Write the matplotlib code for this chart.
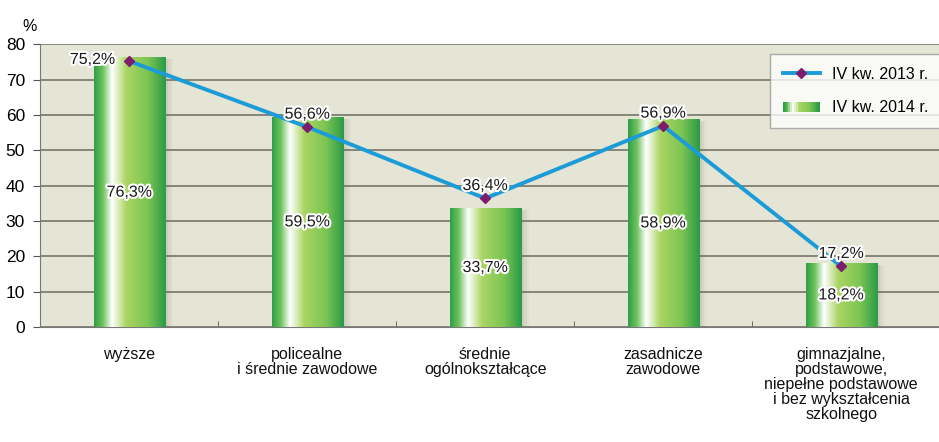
import numpy as np
import matplotlib.pyplot as plt
import matplotlib.patheffects as pe
from matplotlib.colors import LinearSegmentedColormap
from matplotlib.patches import Rectangle
from matplotlib.lines import Line2D
from matplotlib.legend_handler import HandlerBase

plt.rcParams['font.family'] = ['Liberation Sans', 'DejaVu Sans']

categories = ["wyższe", "policealne\ni średnie zawodowe", "średnie\nogólnokształcące",
              "zasadnicze\nzawodowe",
              "gimnazjalne,\npodstawowe,\nniepełne podstawowe\ni bez wykształcenia\nszkolnego"]
values_2014 = [76.3, 59.5, 33.7, 58.9, 18.2]
values_2013 = [75.2, 56.6, 36.4, 56.9, 17.2]
labels_2014 = ["76,3%", "59,5%", "33,7%", "58,9%", "18,2%"]
labels_2013 = ["75,2%", "56,6%", "36,4%", "56,9%", "17,2%"]

green = LinearSegmentedColormap.from_list(
    "bar", [(0.0, "#2f9e48"), (0.12, "#6cc25a"), (0.25, "#ffffff"),
            (0.45, "#a9d563"), (0.75, "#7cc552"), (1.0, "#2a9a48")])
grad = np.linspace(0, 1, 256).reshape(1, -1)

fig = plt.figure(figsize=(9.39, 4.42), dpi=100)
ax = fig.add_axes([0.043, 0.26, 0.957, 0.64])
ax.set_facecolor("#e4e5d5")
x = np.arange(len(categories))
w = 0.4

for xi, v in zip(x, values_2014):
    # soft shadow on the right
    for k, a in enumerate([0.10, 0.07, 0.04]):
        ax.add_patch(Rectangle((xi - w / 2 + 0.02 + k * 0.012, 0), w, v - 0.6,
                               facecolor="#6b6b5a", alpha=a, edgecolor="none", zorder=2))
    im = ax.imshow(grad, cmap=green, aspect="auto",
                   extent=(xi - w / 2, xi + w / 2, 0, v), zorder=3)
    r = Rectangle((xi - w / 2, 0), w, v, transform=ax.transData, facecolor="none",
                  edgecolor="none")
    ax.add_patch(r)
    im.set_clip_path(r)

ax.set_xlim(-0.5, 4.55)
ax.set_ylim(0, 80)
ax.yaxis.grid(True, color="#75756a", linewidth=1.2)
ax.set_axisbelow(True)

ax.plot(x, values_2013, color="#1b9bd7", linewidth=2.8, zorder=5)
ax.plot(x, values_2013, linestyle="none", marker="D", markersize=5,
        color="#7d1d6d", zorder=6)

halo = [pe.withStroke(linewidth=3, foreground="white")]
for xi, v, lab in zip(x, values_2014, labels_2014):
    ax.text(xi, v / 2, lab, ha="center", va="center", fontsize=11.5,
            color="#1a1a1a", path_effects=halo, zorder=7)
for i, (xi, v, lab) in enumerate(zip(x, values_2013, labels_2013)):
    if i == 0:
        ax.text(xi - 0.08, v + 0.5, lab, ha="right", va="center", fontsize=11.5,
                color="#1a1a1a", path_effects=halo, zorder=7)
    else:
        ax.text(xi, v + 1.5, lab, ha="center", va="bottom", fontsize=11.5,
                color="#1a1a1a", path_effects=halo, zorder=7)

ax.set_yticks(range(0, 81, 10))
ax.set_xticks(x)
ax.set_xticklabels(categories, fontsize=11.5, color="#111111", linespacing=1.0)
ax.set_xticks(x[:-1] + 0.5, minor=True)
ax.tick_params(axis="x", which="major", length=0, pad=14)
ax.tick_params(axis="x", which="minor", length=4, color="#555555", direction="in")
ax.tick_params(axis="y", labelsize=12.5, length=5, color="#555555", pad=6)
for s in ["top", "right"]:
    ax.spines[s].set_visible(False)
ax.spines["left"].set_color("#777777")
ax.spines["bottom"].set_color("#777777")
fig.text(0.031, 0.94, "%", fontsize=11.5, ha="center", va="center")


class GradHandler(HandlerBase):
    def create_artists(self, legend, orig, xd, yd, width, height, fontsize, trans):
        arts = []
        n = 20
        for k in range(n):
            arts.append(Rectangle((xd + width * k / n, yd + height * 0.05), width / n + 0.3,
                                  height * 0.9, facecolor=green(k / (n - 1)),
                                  edgecolor="none", transform=trans))
        return arts


line_h = Line2D([], [], color="#1b9bd7", linewidth=2.8, marker="D",
                markersize=5, markerfacecolor="#7d1d6d", markeredgecolor="#7d1d6d")
bar_h = Rectangle((0, 0), 1, 1)
leg = ax.legend([line_h, bar_h], ["IV kw. 2013 r.", "IV kw. 2014 r."],
                handler_map={Rectangle: GradHandler()},
                loc="upper left", bbox_to_anchor=(0.812, 0.965), fontsize=11.5,
                frameon=True, fancybox=False, edgecolor="#999999",
                labelspacing=1.15, handlelength=2.3, handletextpad=0.8,
                borderpad=0.8, borderaxespad=0)
leg.get_frame().set_facecolor("white")
leg.get_frame().set_linewidth(1.0)
leg.set_zorder(10)

fig.savefig("out.png", dpi=100)
